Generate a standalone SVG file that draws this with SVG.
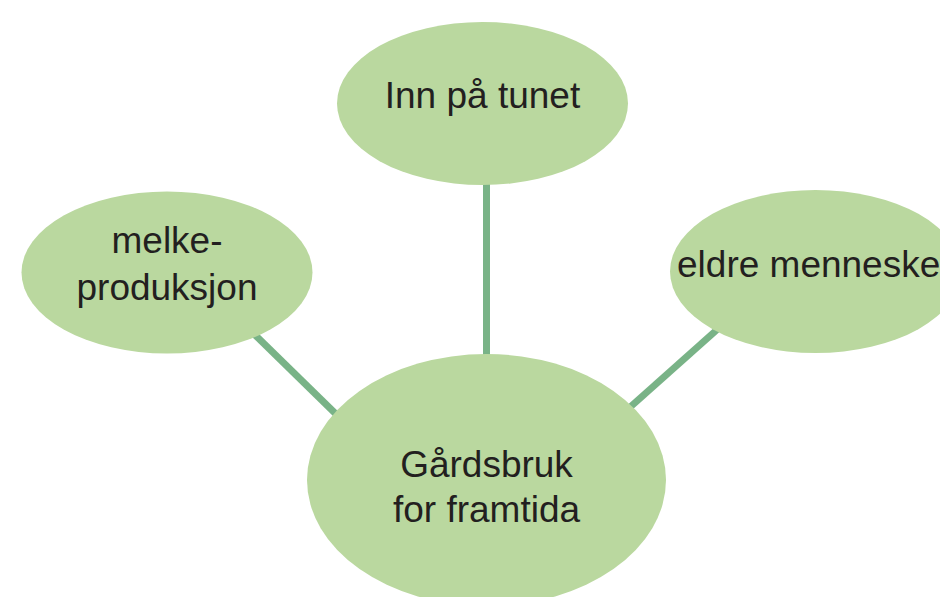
<svg xmlns="http://www.w3.org/2000/svg" width="940" height="597" viewBox="0 0 940 597">
<style>
.node{fill:#bad89f;}
.lbl{font-family:"Liberation Sans",Arial,sans-serif;font-size:37px;fill:#231f20;text-anchor:middle;}
.edge{stroke:#79b387;stroke-width:7;fill:none;}
</style>
<rect width="940" height="597" fill="#ffffff"/>
<g id="connectors">
<line class="edge" x1="486.5" y1="180" x2="486.5" y2="362"/>
<line class="edge" x1="252" y1="332" x2="340" y2="418"/>
<line class="edge" x1="720" y1="327" x2="628" y2="409"/>
</g>
<g id="node-top">
<ellipse class="node" cx="482.5" cy="103.5" rx="145.5" ry="81.5"/>
<text class="lbl" x="482.5" y="108">Inn på tunet</text>
</g>
<g id="node-left">
<ellipse class="node" cx="167" cy="272.5" rx="145.5" ry="81"/>
<text class="lbl" x="167" y="253">melke-</text>
<text class="lbl" x="167" y="300">produksjon</text>
</g>
<g id="node-right">
<ellipse class="node" cx="815.5" cy="271.5" rx="145.5" ry="81.5"/>
<text class="lbl" x="677" y="277" style="text-anchor:start">eldre menneske</text>
</g>
<g id="node-center">
<ellipse class="node" cx="486.5" cy="480" rx="179.5" ry="126"/>
<text class="lbl" x="486.5" y="477">Gårdsbruk</text>
<text class="lbl" x="486.5" y="522">for framtida</text>
</g>
</svg>
